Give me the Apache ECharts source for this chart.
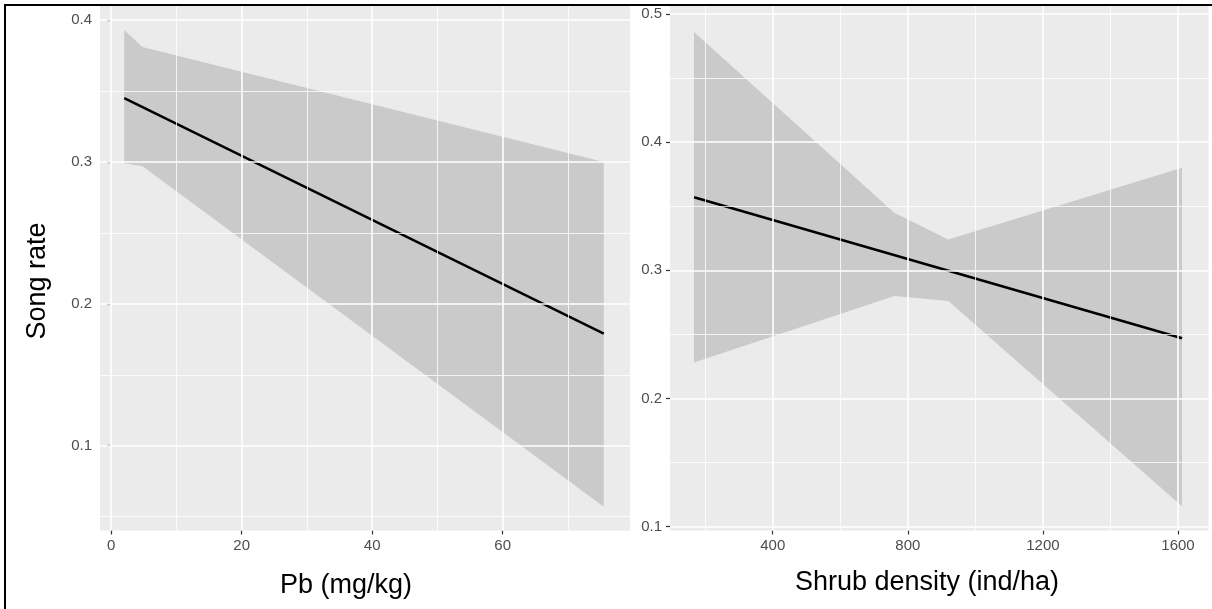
<!DOCTYPE html>
<html>
<head>
<meta charset="utf-8">
<script src="https://cdn.jsdelivr.net/npm/echarts@6.0.0/dist/echarts.min.js"></script>
<style>
html, body { margin: 0; padding: 0; background: #fff; }
#main { width: 1212px; height: 609px; }
</style>
</head>
<body>
<div id="main"></div>
<script>
// left panel: song rate vs Pb
var pbX = [2, 4.8, 75.5];
var pbUpper = [0.393, 0.381, 0.300];
var pbLower = [0.299, 0.297, 0.057];
var pbFitX = [2, 75.5];
var pbFitY = [0.345, 0.179];
var pbTicks = [0, 20, 40, 60];
var pbMinor = [10, 30, 50, 70];
var pbYTicks = [0.1, 0.2, 0.3, 0.4];
var pbYMinor = [0.05, 0.15, 0.25, 0.35];

// right panel: song rate vs shrub density
var shrubX = [167, 760, 920, 1612];
var shrubUpper = [0.486, 0.345, 0.324, 0.380];
var shrubLower = [0.228, 0.280, 0.276, 0.116];
var shrubFitX = [167, 1612];
var shrubFitY = [0.357, 0.247];
var shrubTicks = [400, 800, 1200, 1600];
var shrubMinor = [200, 600, 1000, 1400];
var shrubYTicks = [0.1, 0.2, 0.3, 0.4, 0.5];
var shrubYMinor = [0.15, 0.25, 0.35, 0.45];

var FONT = 'Liberation Sans, Arial, Helvetica, sans-serif';
var myChart = echarts.init(document.getElementById('main'));

function makeAxis(idx, min, max, ticks) {
    return {
        type: 'value',
        gridIndex: idx,
        min: min,
        max: max,
        axisLine: { show: false },
        splitLine: { show: false },
        axisTick: {
            show: true,
            customValues: ticks,
            length: 4,
            lineStyle: { color: '#333333', width: 1.2 }
        },
        axisLabel: {
            customValues: ticks,
            color: '#4d4d4d',
            fontSize: 15,
            margin: 8,
            fontFamily: FONT,
            formatter: function(v) { return String(v); }
        }
    };
}

function gridLines(idx, xs, ys, width) {
    var lines = [];
    for (var i = 0; i < xs.length; i++) lines.push({ xAxis: xs[i] });
    for (var j = 0; j < ys.length; j++) lines.push({ yAxis: ys[j] });
    return {
        type: 'line',
        xAxisIndex: idx,
        yAxisIndex: idx,
        data: [],
        z: 1,
        silent: true,
        markLine: {
            silent: true,
            symbol: ['none', 'none'],
            label: { show: false },
            lineStyle: { color: '#ffffff', width: width, type: 'solid' },
            data: lines
        }
    };
}

function ribbon(idx, xs, up, lo) {
    return {
        type: 'custom',
        xAxisIndex: idx,
        yAxisIndex: idx,
        z: 3,
        silent: true,
        data: [[xs[0], up[0]]],
        renderItem: function(params, api) {
            var pts = [];
            for (var i = 0; i < xs.length; i++) pts.push(api.coord([xs[i], up[i]]));
            for (var k = xs.length - 1; k >= 0; k--) pts.push(api.coord([xs[k], lo[k]]));
            return {
                type: 'polygon',
                shape: { points: pts },
                style: { fill: 'rgba(153,153,153,0.4)' }
            };
        }
    };
}

function fitLine(idx, xs, ys) {
    var d = [];
    for (var i = 0; i < xs.length; i++) d.push([xs[i], ys[i]]);
    return {
        type: 'line',
        xAxisIndex: idx,
        yAxisIndex: idx,
        z: 4,
        silent: true,
        symbol: 'none',
        lineStyle: { color: '#000000', width: 2.5 },
        data: d
    };
}

var option = {
    animation: false,
    textStyle: { fontFamily: FONT },
    grid: [
        { left: 100, top: 6, width: 530, height: 524.5, show: true, backgroundColor: '#ebebeb', borderWidth: 0 },
        { left: 670, top: 6, width: 538.5, height: 524.5, show: true, backgroundColor: '#ebebeb', borderWidth: 0 }
    ],
    xAxis: [
        makeAxis(0, -1.715, 79.52, pbTicks),
        makeAxis(1, 95.9, 1690.3, shrubTicks)
    ],
    yAxis: [
        makeAxis(0, 0.04024, 0.40987, pbYTicks),
        makeAxis(1, 0.09701, 0.50624, shrubYTicks)
    ],
    series: [
        gridLines(0, pbMinor, pbYMinor, 0.8),
        gridLines(0, pbTicks, pbYTicks, 1.6),
        gridLines(1, shrubMinor, shrubYMinor, 0.8),
        gridLines(1, shrubTicks, shrubYTicks, 1.6),
        ribbon(0, pbX, pbUpper, pbLower),
        ribbon(1, shrubX, shrubUpper, shrubLower),
        fitLine(0, pbFitX, pbFitY),
        fitLine(1, shrubFitX, shrubFitY)
    ],
    graphic: [
        {
            type: 'rect',
            shape: { x: 5, y: 5, width: 1220, height: 620 },
            style: { fill: 'none', stroke: '#000000', lineWidth: 2 },
            z: 10
        },
        {
            type: 'text',
            x: 38, y: 281,
            rotation: Math.PI / 2,
            style: { text: 'Song rate', fontSize: 27, fill: '#000', fontFamily: FONT, textAlign: 'center', textVerticalAlign: 'middle' }
        },
        {
            type: 'text',
            x: 346, y: 586,
            style: { text: 'Pb (mg/kg)', fontSize: 27, fill: '#000', fontFamily: FONT, textAlign: 'center', textVerticalAlign: 'middle' }
        },
        {
            type: 'text',
            x: 927, y: 582.5,
            style: { text: 'Shrub density (ind/ha)', fontSize: 27, fill: '#000', fontFamily: FONT, textAlign: 'center', textVerticalAlign: 'middle' }
        }
    ]
};
myChart.setOption(option);

window.onresize = myChart.resize;
</script>
</body>
</html>
